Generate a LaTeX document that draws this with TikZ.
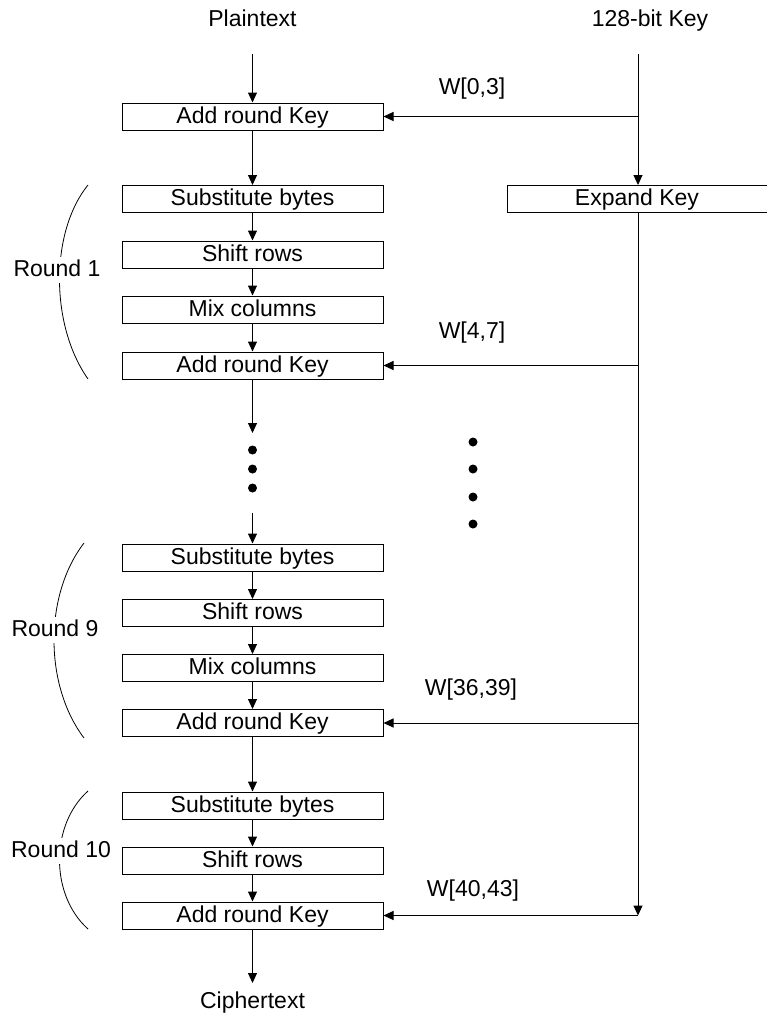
\documentclass[tikz,border=0pt]{standalone}
\usepackage{fontspec}
\setmainfont{Liberation Sans}
\usetikzlibrary{arrows.meta}
\begin{document}
\begin{tikzpicture}[x=1pt,y=-1pt,
  line width=1pt,
  every node/.style={font=\fontsize{23pt}{27pt}\selectfont, inner sep=0pt,
                     text height=16.5pt, text depth=3pt},
  stage/.style={draw, minimum width=261pt, minimum height=27pt},
  arr/.style={-{Triangle[length=10pt,width=9pt]}},
  brace/.style={line width=0.8pt},
  roundlbl/.style={fill=white, inner xsep=1pt, inner ysep=3pt},
  dot/.style={fill=black},
]
\useasboundingbox (0,0) rectangle (767,1015);

% inputs and output
\node (pt) at (252.5,20) {Plaintext};
\node (kin) at (650,20) {128-bit Key};
\coordinate (ptout) at (252.5,54);
\coordinate (kout) at (638,54);
\node (ct) at (252.5,1002) {Ciphertext};
\coordinate (ctin) at (252.5,983);

% initial key addition
\node[stage] (ark0) at (252.5,116.5) {Add round Key};
\node[stage, minimum width=260pt] (ek) at (637,199) {Expand Key};

% round 1
\node[stage] (sb1)  at (252.5,199)   {Substitute bytes};
\node[stage] (sr1)  at (252.5,254.5) {Shift rows};
\node[stage] (mc1)  at (252.5,309.5) {Mix columns};
\node[stage] (ark1) at (252.5,365.5) {Add round Key};

% round 9
\node[stage] (sb9)  at (252.5,557.5) {Substitute bytes};
\node[stage] (sr9)  at (252.5,613)   {Shift rows};
\node[stage] (mc9)  at (252.5,668)   {Mix columns};
\node[stage] (ark9) at (252.5,723)   {Add round Key};

% round 10
\node[stage] (sb10)  at (252.5,805.5) {Substitute bytes};
\node[stage] (sr10)  at (252.5,860.5) {Shift rows};
\node[stage] (ark10) at (252.5,915.5) {Add round Key};

% gaps around the omitted rounds
\coordinate (gapin)  at (252.5,433);
\coordinate (gapout) at (252.5,513);
\coordinate (k10) at (638,915.5);

% data path
\draw[arr] (ptout) -- (ark0.north);
\draw[arr] (ark0) -- (sb1);
\draw[arr] (sb1) -- (sr1);
\draw[arr] (sr1) -- (mc1);
\draw[arr] (mc1) -- (ark1);
\draw[arr] (ark1.south) -- (gapin);
\draw[arr] (gapout) -- (sb9.north);
\draw[arr] (sb9) -- (sr9);
\draw[arr] (sr9) -- (mc9);
\draw[arr] (mc9) -- (ark9);
\draw[arr] (ark9) -- (sb10);
\draw[arr] (sb10) -- (sr10);
\draw[arr] (sr10) -- (ark10);
\draw[arr] (ark10.south) -- (ctin);

% key schedule
\draw[arr] (kout) -- (kout |- ek.north);
\draw[arr] (kout |- ek.south) -- (k10);
\draw[arr] (kout |- ark0.east) -- (ark0.east);
\draw[arr] (kout |- ark1.east) -- (ark1.east);
\draw[arr] (kout |- ark9.east) -- (ark9.east);
\draw[arr] (k10) -- (ark10.east);

% round key labels
\node (w0)  at (472,88)  {W[0,3]};
\node (w1)  at (472,332) {W[4,7]};
\node (w9)  at (471,689) {W[36,39]};
\node (w10) at (473,890) {W[40,43]};

% round groupings: the label sits over its arc
\draw[brace] (88,185) .. controls (50,232) and (50,325) .. (88,379);
\node[roundlbl] (r1) at (57,270) {Round 1};
\draw[brace] (84,543) .. controls (44,595) and (44,685) .. (84,738);
\node[roundlbl] (r9) at (55,630) {Round 9};
\draw[brace] (88,791) .. controls (50,825) and (50,895) .. (88,929);
\node[roundlbl] (r10) at (61,851) {Round 10};

% ellipsis dots
\foreach \yy in {450,469,488} \fill[dot] (252.5,\yy) circle (4.5);
\foreach \yy in {442,469,497,524} \fill[dot] (473,\yy) circle (4.5);
\end{tikzpicture}
\end{document}
